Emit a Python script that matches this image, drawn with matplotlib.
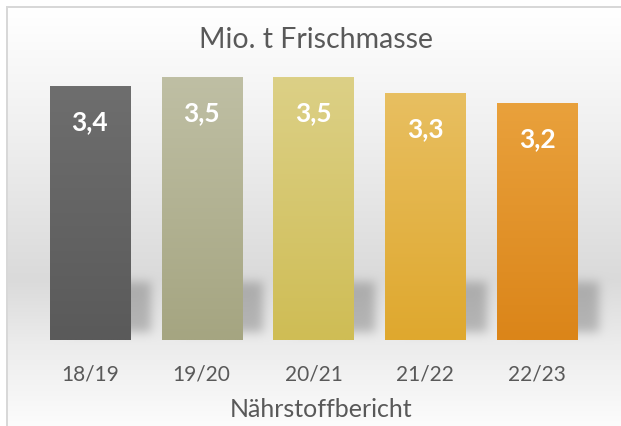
import numpy as np
import matplotlib
matplotlib.use("Agg")
import matplotlib.pyplot as plt
from matplotlib.colors import to_rgb

# Daten
berichte = ["18/19", "19/20", "20/21", "21/22", "22/23"]
mio_t = [3.41, 3.53, 3.53, 3.32, 3.19]
farbe_oben = ["#6e6e6e", "#bfbfa4", "#dcd086", "#e8bf61", "#e9a13c"]
farbe_unten = ["#5a5a5a", "#a5a581", "#cfbd55", "#dfa82e", "#db8519"]

W, H = 621, 427
grau = "#595959"
plt.rcParams['font.family'] = ['Lato', 'DejaVu Sans']

fig = plt.figure(figsize=(W / 100, H / 100), dpi=100)
bg = fig.add_axes([0, 0, 1, 1], zorder=0)
ax = fig.add_axes([34 / W, 86 / H, 559 / W, 297 / H], zorder=1)
ax.patch.set_alpha(0)

x = np.arange(len(berichte))
bars = ax.bar(x, mio_t, width=0.716, color='none', edgecolor='none')

# Verlauf in den Balken
for b, c1, c2 in zip(bars, farbe_oben, farbe_unten):
    t = np.linspace(0, 1, 100)[:, None, None]
    grad = (1 - t) * np.array(to_rgb(c1)) + t * np.array(to_rgb(c2))
    ax.imshow(grad, extent=[b.get_x(), b.get_x() + b.get_width(), 0, b.get_height()],
              origin='upper', aspect='auto', clip_path=b, zorder=2)
    v = b.get_height()
    ax.annotate(f"{v:.1f}".replace('.', ','), (b.get_x() + b.get_width() / 2, v),
                xytext=(0, -25), textcoords='offset points', ha='center', va='center',
                color='white', fontsize=19, fontweight='bold', zorder=3)

ax.set_xlim(-0.5, 4.5)
ax.set_ylim(0, 4.0)
ax.set_xticks(x, berichte)
ax.tick_params(axis='x', length=0, pad=17, labelsize=15, labelcolor=grau)
ax.set_yticks([])
for s in ax.spines.values():
    s.set_visible(False)

fig.text(316 / W, 1 - 40 / H, "Mio. t Frischmasse", ha='center', va='center',
         fontsize=20.5, color=grau)
fig.text(321 / W, 1 - 410 / H, "Nährstoffbericht", ha='center', va='center',
         fontsize=18, color=grau)

# Hintergrund mit Verlauf und Schatten
rows = np.arange(H)
col = np.interp(rows, [10, 130, 280, 345, 427], [255, 240, 218, 236, 252]) / 255
img = np.repeat(col[:, None], W, axis=1)

mask = np.zeros((H, W))
for b in bars:
    (x0, _), (x1, _) = ax.transData.transform([(b.get_x(), 0), (b.get_x() + b.get_width(), 0)])
    mask[283:333, int(x0 + 20):int(x1 + 22)] = 1
k = np.exp(-0.5 * (np.arange(-15, 16) / 5.0) ** 2)
k /= k.sum()
mask = np.apply_along_axis(lambda r: np.convolve(r, k, mode='same'), 1, mask)
mask = np.apply_along_axis(lambda c: np.convolve(c, k, mode='same'), 0, mask)
img = img * (1 - 0.22 * mask)

img[:7, :] = 1
img[:, :6] = 1
img[7:9, 6:] = 0.85
img[7:, 6:8] = 0.85
img = np.dstack([img] * 3)

bg.imshow(img, extent=[0, W, H, 0], aspect='auto', interpolation='nearest')
bg.set_axis_off()

fig.savefig("out.png", dpi=100)
